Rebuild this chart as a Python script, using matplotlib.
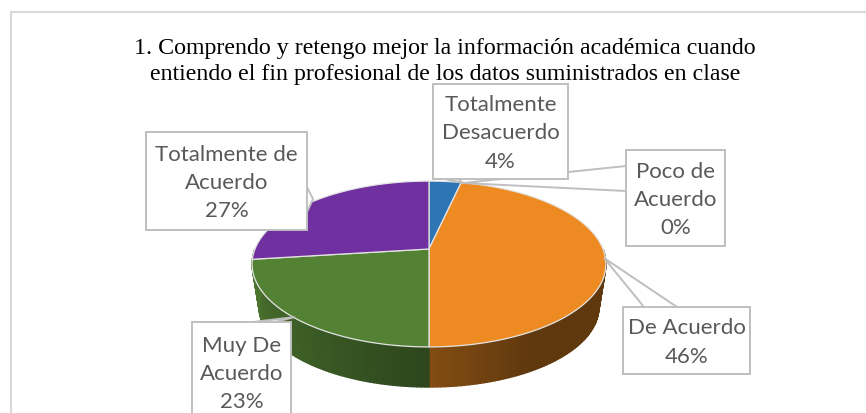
import matplotlib
matplotlib.use("Agg")
import matplotlib.pyplot as plt
import numpy as np
from matplotlib.colors import to_rgb
from matplotlib.patches import Polygon, Rectangle

# data
categories = ["Totalmente\nDesacuerdo", "Poco de\nAcuerdo", "De Acuerdo", "Muy De\nAcuerdo", "Totalmente de\nAcuerdo"]
values = [3.5, 0, 46.5, 23, 27]
colors = ["#2E75B6", "#A5A5A5", "#ED8B22", "#548235", "#7030A0"]
title = "1. Comprendo y retengo mejor la información académica cuando\nentiendo el fin profesional de los datos suministrados en clase"

W, H = 866, 414
fig = plt.figure(figsize=(W / 100, H / 100), dpi=100)

ax = fig.add_axes([0, 0, 1, 1])
wedges, _ = ax.pie(values, colors=colors, startangle=90, counterclock=False)
# angulos de cada porcion (horario desde arriba)
spans = [(90 - w.theta2, 90 - w.theta1) for w in wedges]
for w in wedges:
    w.set_visible(False)
ax.set_aspect("auto")
ax.set_xlim(0, W)
ax.set_ylim(H, 0)
ax.set_axis_off()

# marco: solo izquierda y arriba se ven
ax.plot([10.5, 10.5, W], [H, 12.5, 12.5], color="#D9D9D9", lw=1.5, solid_joinstyle="miter")
ax.text(445, 61.5, title, ha="center", va="center", fontsize=17.2, family="Liberation Serif",
        color="black", linespacing=1.29)

# perspectiva de la tarta 3D de Office
k = 0.181
cx, cy = 429, 250


def rim(t_deg, scale=1.0, y0=cy):
    t = np.radians(t_deg)
    u, v = np.sin(t), np.cos(t)
    w = 1 + k * v
    return cx + 174 * scale * u / w, y0 - 80.2 * scale * v / w


def shade(t, color):
    # sombreado de la pared lateral, t horario desde arriba
    base = np.array(to_rgb(color))
    if t <= 180:
        f = 0.40 + 0.15 * np.clip((t - 150) / 30, 0, 1)
    else:
        f = 0.54 + 0.36 * np.clip((t - 180) / 80, 0, 1)
    return base * f


# pared lateral
for (t1, t2), c in zip(spans, colors):
    if t1 > 260:
        continue
    a = max(t1, 90)
    b = 270 if t2 > 250 else t2
    if b <= a:
        continue
    edges = np.linspace(a, b, 81)
    for e0, e1 in zip(edges[:-1], edges[1:]):
        x0, y0 = rim(e0)
        x1, y1 = rim(e1)
        x2, y2 = rim(e1, 0.96, 294)
        x3, y3 = rim(e0, 0.96, 294)
        col = shade((e0 + e1) / 2, c)
        ax.add_patch(Polygon([(x0, y0), (x1, y1), (x2, y2), (x3, y3)], fc=col, ec=col, lw=1.0))

# cara superior
for (t1, t2), c in zip(spans, colors):
    if t2 <= t1:
        continue
    xs, ys = rim(np.linspace(t1, t2, 120))
    pts = [(cx, cy)] + list(zip(xs, ys))
    ax.add_patch(Polygon(pts, fc=c, ec="#E4E4E4", lw=0.9, joinstyle="round"))

# etiquetas con flecha de llamada
boxes = [
    (433, 85, 568, 180, [(445, 180), (463, 184), (458, 180)]),
    (626, 151, 725, 247, [(626, 167), (463, 184), (626, 192)]),
    (623, 308, 750, 375, [(644, 308), (604, 259), (677, 308)]),
    (192, 323, 291, 423, [(253, 323), (295, 318), (275, 323)]),
    (146, 133, 307, 231, [(307, 188), (313, 200), (307, 213)]),
]
text_color = "#595959"
edge = "#BFBFBF"
rows = list(zip(boxes, categories, values))
for (x0, y0, x1, y1, tip), name, v in reversed(rows):
    ax.add_patch(Polygon(tip, closed=False, fc="white", ec=edge, lw=1.4))
    ax.add_patch(Rectangle((x0, y0), x1 - x0, y1 - y0, fc="white", ec=edge, lw=1.4))
    ax.text((x0 + x1) / 2, (y0 + y1) / 2 + 1, f"{name}\n{round(v)}%", ha="center", va="center",
            fontsize=16, family="Lato", color=text_color, linespacing=1.53)

fig.savefig("out.png", dpi=100)
